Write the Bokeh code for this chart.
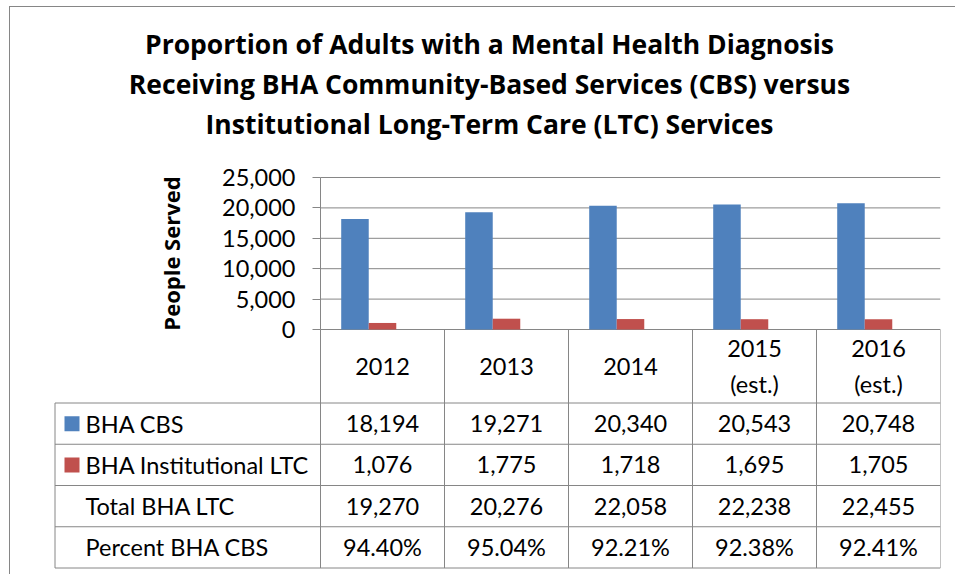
from bokeh.plotting import figure
from bokeh.models import Range1d, LinearAxis, FixedTicker, NumeralTickFormatter, Title
from bokeh.embed import file_html
from bokeh.resources import INLINE
from bokeh.core.properties import value

# ---------------- data ----------------
title_lines = ["Proportion of Adults with a Mental Health Diagnosis",
               "Receiving BHA Community-Based Services (CBS) versus",
               "Institutional Long-Term Care (LTC) Services"]
years = ["2012", "2013", "2014", "2015\n(est.)", "2016\n(est.)"]
bha_cbs = [18194, 19271, 20340, 20543, 20748]
bha_inst_ltc = [1076, 1775, 1718, 1695, 1705]
total_bha_ltc = [19270, 20276, 22058, 22238, 22455]
percent_bha_cbs = [94.40, 95.04, 92.21, 92.38, 92.41]
row_labels = ["BHA CBS", "BHA Institutional LTC", "Total BHA LTC", "Percent BHA CBS"]
y_ticks = [0, 5000, 10000, 15000, 20000, 25000]
y_axis_label = "People Served"

# ---------------- styles / geometry ----------------
BLUE = "#4F81BD"
RED = "#C0504D"
LINE = "#868686"
FONT = "Lato"
BOLD_FONT = "Open Sans"
FS = "23.5px"
W, H = 946, 568
FRAME_LEFT_PAGE = 38
MB_LEFT, MB_RIGHT, MB_TOP, MB_BOTTOM = FRAME_LEFT_PAGE - 10, W - 930, 135, 6
PLOT_PX = 152                 # pixels for 0..25000
PAD_TOP = 35                  # pixels above 25000 inside the frame
CAT_PX = 124                  # pixels per category column
UNIT = 25000 / PLOT_PX        # data units per vertical pixel
frame_h = H - MB_TOP - MB_BOTTOM
y_end = y_ticks[-1] + PAD_TOP * UNIT
y_start = -(frame_h - PLOT_PX - PAD_TOP) * UNIT
x_start = -(320 - FRAME_LEFT_PAGE) / CAT_PX

def yd(px_below_zero):
    return -px_below_zero * UNIT

def xd(px_from_axis):
    return px_from_axis / CAT_PX

HEADER_PX = 73.5
ROW_PX = 41.25
n = len(years)
table_left = xd(-(320 - 54.5))
row_bounds = [yd(HEADER_PX + k * ROW_PX) for k in range(len(row_labels) + 1)]
row_centers = [yd(HEADER_PX + (k + 0.5) * ROW_PX) for k in range(len(row_labels))]
table_bottom = row_bounds[-1]

p = figure(width=W, height=H, output_backend="svg", toolbar_location=None,
           x_axis_type=None, y_axis_type=None,
           x_range=Range1d(x_start, n), y_range=Range1d(y_start, y_end),
           min_border_left=MB_LEFT, min_border_right=MB_RIGHT,
           min_border_top=MB_TOP, min_border_bottom=MB_BOTTOM)
p.outline_line_color = None
p.background_fill_color = "white"
p.border_fill_color = "white"
# outer chart border (left and top edges only) drawn as a 1px offset shadow
p.styles = {"margin-left": "10px", "margin-top": "7px",
            "box-shadow": "-1px -1px 0px 0px " + LINE}

# title: three centred lines (added bottom line first)
for line in reversed(title_lines):
    t = Title(text=line, align="center", text_font=BOLD_FONT, text_font_size="26.5px",
              text_font_style="bold", text_color="black", standoff=2)
    p.add_layout(t, "above")

# gridlines (plot area only)
p.segment(x0=[0] * len(y_ticks), x1=[n] * len(y_ticks), y0=y_ticks, y1=y_ticks,
          line_color=LINE, line_width=1)

# bars: three-slot clustered layout (third series "Total" not plotted)
slot = 0.222
xs = [i + 0.5 for i in range(n)]
p.vbar(x=[x - slot for x in xs], top=bha_cbs, width=slot, fill_color=BLUE, line_color=None)
p.vbar(x=xs, top=bha_inst_ltc, width=slot, fill_color=RED, line_color=None)

# table lines
p.segment(x0=[table_left] * len(row_bounds), x1=[n] * len(row_bounds),
          y0=row_bounds, y1=row_bounds, line_color=LINE, line_width=1)
p.segment(x0=list(range(0, n + 1)), x1=list(range(0, n + 1)),
          y0=[0] * (n + 1), y1=[table_bottom] * (n + 1), line_color=LINE, line_width=1)
p.segment(x0=[table_left], x1=[table_left], y0=[row_bounds[0]], y1=[table_bottom],
          line_color=LINE, line_width=1)

# y axis at x = 0
yax = LinearAxis(fixed_location=0, ticker=FixedTicker(ticks=y_ticks),
                 formatter=NumeralTickFormatter(format="0,0"),
                 bounds=(y_ticks[0], y_ticks[-1]), axis_label=y_axis_label)
yax.axis_line_color = LINE
yax.major_tick_line_color = LINE
yax.minor_tick_line_color = None
yax.major_tick_out = 8
yax.major_tick_in = 0
yax.major_label_text_font = FONT
yax.major_label_text_font_size = FS
yax.major_label_text_color = "black"
yax.major_label_standoff = 17
yax.axis_label_text_font = BOLD_FONT
yax.axis_label_text_font_size = "22px"
yax.axis_label_text_font_style = "bold"
yax.axis_label_text_color = "black"
yax.axis_label_standoff = 33
p.add_layout(yax, "left")

# header row (categories)
hx, hy, ht = [], [], []
for i, lab in enumerate(years):
    parts = lab.split("\n")
    if len(parts) == 1:
        hx.append(xs[i]); hy.append(yd(HEADER_PX / 2)); ht.append(parts[0])
    else:
        hx += [xs[i], xs[i]]
        hy += [yd(HEADER_PX / 2 - 17.5), yd(HEADER_PX / 2 + 17.5)]
        ht += parts
p.text(x=hx, y=hy, text=ht, text_font=value(FONT), text_font_size=FS,
       text_align="center", text_baseline="middle", text_color="black")

# table row labels + legend keys
p.text(x=[xd(85 - 320)] * len(row_labels), y=row_centers, text=row_labels,
       text_font=value(FONT), text_font_size=FS, text_align="left",
       text_baseline="middle", text_color="black")
p.scatter(x=[xd(71.5 - 320)] * 2, y=row_centers[:2], marker="square", size=15,
          fill_color=[BLUE, RED], line_color=None)

# table values
rows_fmt = [
    [f"{v:,}" for v in bha_cbs],
    [f"{v:,}" for v in bha_inst_ltc],
    [f"{v:,}" for v in total_bha_ltc],
    [f"{v:.2f}%" for v in percent_bha_cbs],
]
vx, vy, vt = [], [], []
for k, vals in enumerate(rows_fmt):
    for i, t in enumerate(vals):
        vx.append(xs[i]); vy.append(row_centers[k]); vt.append(t)
p.text(x=vx, y=vy, text=vt, text_font=value(FONT), text_font_size=FS,
       text_align="center", text_baseline="middle", text_color="black")

open("out.html", "w").write(file_html(p, INLINE))
